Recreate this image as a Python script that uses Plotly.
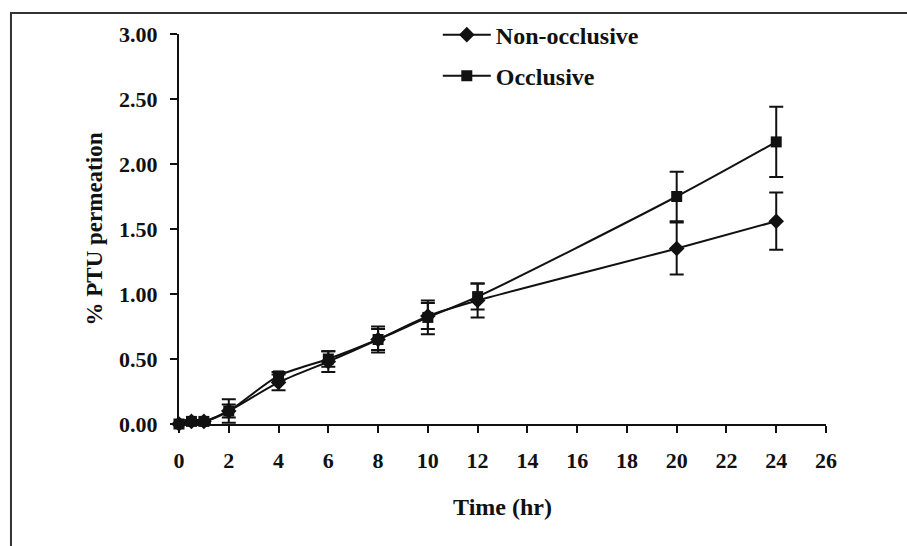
import plotly.graph_objects as go

# Sampling times (hr)
time_hr = [0, 0.5, 1, 2, 4, 6, 8, 10, 12, 20, 24]

# Cumulative % PTU permeated, mean and SD
non_occlusive = [0.00, 0.02, 0.02, 0.10, 0.32, 0.48, 0.65, 0.83, 0.95, 1.35, 1.56]
non_occlusive_sd = [0.00, 0.01, 0.01, 0.05, 0.06, 0.08, 0.08, 0.10, 0.13, 0.20, 0.22]

occlusive = [0.00, 0.02, 0.02, 0.10, 0.37, 0.50, 0.65, 0.82, 0.98, 1.75, 2.17]
occlusive_sd = [0.00, 0.01, 0.01, 0.09, 0.03, 0.06, 0.10, 0.13, 0.10, 0.19, 0.27]

x_ticks = list(range(0, 27, 2))
y_ticks = [0, 0.5, 1.0, 1.5, 2.0, 2.5, 3.0]

FONT = "Liberation Serif"
INK = "#111111"

fig = go.Figure()

fig.add_trace(go.Scatter(
    x=time_hr, y=non_occlusive, name="<b>Non-occlusive</b>",
    mode="lines+markers", legendgroup="non",
    line=dict(color=INK, width=2, shape="spline", smoothing=0.8),
    marker=dict(symbol="diamond", size=12, color=INK),
    error_y=dict(type="data", array=non_occlusive_sd, color=INK, thickness=2, width=7),
    cliponaxis=False,
))

fig.add_trace(go.Scatter(
    x=time_hr, y=occlusive, name="<b>Occlusive</b>",
    mode="lines+markers", legendgroup="occ",
    line=dict(color=INK, width=2, shape="spline", smoothing=0.8),
    marker=dict(symbol="square", size=11, color=INK),
    error_y=dict(type="data", array=occlusive_sd, color=INK, thickness=2, width=7),
    cliponaxis=False,
))

axis_common = dict(
    showline=True, linecolor=INK, linewidth=2,
    ticks="outside", ticklen=7, tickwidth=2, tickcolor=INK,
    showgrid=False, zeroline=False,
    tickfont=dict(family=FONT, size=22, color=INK),
)

fig.update_layout(
    width=907, height=546,
    margin=dict(l=179, r=81, t=34, b=122),
    paper_bgcolor="white", plot_bgcolor="white",
    font=dict(family=FONT, color=INK),
    showlegend=True,
    xaxis=dict(
        range=[0, 26], tickvals=x_ticks, ticktext=[f"<b>{v}</b>" for v in x_ticks],
        title=dict(text="<b>Time (hr)</b>", font=dict(family=FONT, size=24, color=INK), standoff=26),
        ticklabelstandoff=9,
        **axis_common,
    ),
    yaxis=dict(
        range=[0, 3], tickvals=y_ticks, ticktext=[f"<b>{v:.2f}</b>" for v in y_ticks],
        title=dict(text="<b>% PTU permeation</b>", font=dict(family=FONT, size=23, color=INK), standoff=10),
        ticklabelstandoff=8,
        **axis_common,
    ),
    legend=dict(
        x=0.40, y=1.055, xanchor="left", yanchor="top",
        bgcolor="rgba(0,0,0,0)", itemwidth=48,
        traceorder="grouped", tracegroupgap=7,
        font=dict(family=FONT, size=24, color=INK),
    ),
    shapes=[dict(
        type="rect", xref="paper", yref="paper",
        x0=-0.2597, x1=1.3, y0=-0.5, y1=1.0538,
        line=dict(color="#333333", width=2),
    )],
)

fig.write_html("out.html")
